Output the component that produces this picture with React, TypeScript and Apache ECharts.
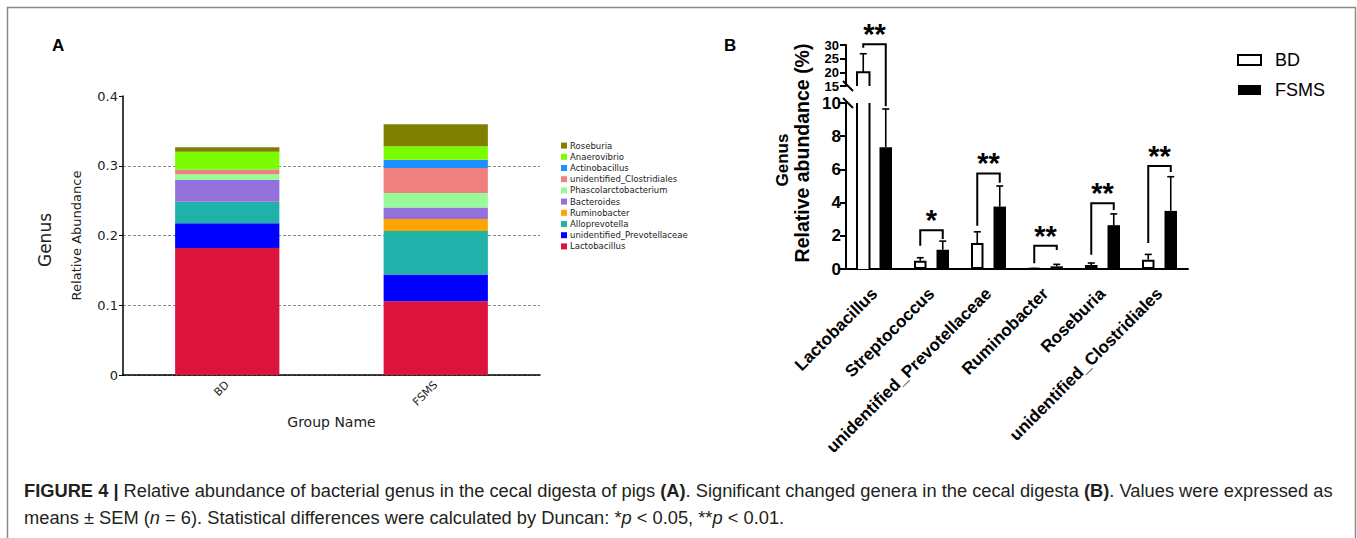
import React, { useEffect, useRef } from 'react';
import * as echarts from 'echarts';

// ---------- Panel A data ----------
const groupsA = ['BD', 'FSMS'];
const generaA = [
  'Lactobacillus',
  'unidentified_Prevotellaceae',
  'Alloprevotella',
  'Ruminobacter',
  'Bacteroides',
  'Phascolarctobacterium',
  'unidentified_Clostridiales',
  'Actinobacillus',
  'Anaerovibrio',
  'Roseburia',
];
const lactobacillusA = [0.182, 0.1056];
const prevotellaceaeA = [0.0355, 0.0384];
const alloprevotellaA = [0.0305, 0.0624];
const ruminobacterA = [0.0005, 0.0173];
const bacteroidesA = [0.031, 0.0163];
const phascolarctobacteriumA = [0.0082, 0.0211];
const clostridialesA = [0.0067, 0.0355];
const actinobacillusA = [0.0004, 0.012];
const anaerovibrioA = [0.0254, 0.0192];
const roseburiaA = [0.0063, 0.0317];
const colorsA = ['#dc143c', '#0000ff', '#20b2aa', '#ffa500', '#9370db', '#98fb98', '#f08080', '#1e90ff', '#7cfc00', '#808000'];

// ---------- Panel B data ----------
const generaB = ['Lactobacillus', 'Streptococcus', 'unidentified_Prevotellaceae', 'Ruminobacter', 'Roseburia', 'unidentified_Clostridiales'];
const bdMean = [20, 0.5, 1.56, 0.02, 0.24, 0.56];
const bdSem = [6.8, 0.18, 0.68, 0.01, 0.12, 0.32];
const fsmsMean = [7.34, 1.16, 3.76, 0.16, 2.64, 3.5];
const fsmsSem = [2.3, 0.52, 1.24, 0.12, 0.68, 2.06];
const significance = ['**', '*', '**', '**', '**', '**'];
const bracketTop = [30.3, 2.34, 5.76, 1.4, 3.96, 6.2];
const bracketLeftEnd = [29, 1.4, 2.6, 0.35, 0.86, 1.56];
const bracketRightEnd = [9.8, 1.8, 5.2, 1.15, 3.56, 5.84];
const lowerMax = 10;
const upperMin = 15;
const upperMax = 30;
const upperTicks = [15, 20, 25, 30];

const FA = 'DejaVu Sans';
const FB = 'Liberation Sans, Arial, sans-serif';

const HALF = 11.25; // bar centre offset in panel B (barWidth 12.5, gap 80%)
const BW = 12.5;

function errRender(offset: number) {
  return (params: any, api: any) => {
    const c = api.value(0);
    const m = api.value(1);
    const s = api.value(2);
    const p0 = api.coord([c, m]);
    const p1 = api.coord([c, m + s]);
    const x = p0[0] + offset;
    const st = { stroke: '#000', lineWidth: 1.6 };
    return {
      type: 'group',
      children: [
        { type: 'line', shape: { x1: x, y1: p0[1], x2: x, y2: p1[1] }, style: st },
        { type: 'line', shape: { x1: x - 3.5, y1: p1[1], x2: x + 3.5, y2: p1[1] }, style: st },
      ],
    };
  };
}

function brokenLowerRender(params: any, api: any) {
  const c = api.value(0);
  const b = api.coord([c, 0]);
  const t = api.coord([c, lowerMax]);
  const x = b[0] - HALF;
  const st = { stroke: '#000', lineWidth: 2 };
  return {
    type: 'group',
    children: [
      { type: 'line', shape: { x1: x - BW / 2, y1: b[1], x2: x - BW / 2, y2: t[1] }, style: st },
      { type: 'line', shape: { x1: x + BW / 2, y1: b[1], x2: x + BW / 2, y2: t[1] }, style: st },
    ],
  };
}
function brokenUpperRender(params: any, api: any) {
  const c = api.value(0);
  const v = api.value(1);
  const b = api.coord([c, upperMin]);
  const t = api.coord([c, v]);
  const x = b[0] - HALF;
  return {
    type: 'polyline',
    shape: { points: [[x - BW / 2, b[1]], [x - BW / 2, t[1]], [x + BW / 2, t[1]], [x + BW / 2, b[1]]] },
    style: { stroke: '#000', lineWidth: 2, fill: 'none' },
  };
}

export default function App() {
  const ref = useRef<HTMLDivElement>(null);
  useEffect(() => {
    const chart = echarts.init(ref.current!, null, { renderer: 'svg' });
    const seriesAData = [
      lactobacillusA, prevotellaceaeA, alloprevotellaA, ruminobacterA, bacteroidesA,
      phascolarctobacteriumA, clostridialesA, actinobacillusA, anaerovibrioA, roseburiaA,
    ];
    const seriesA = generaA.map((name, i) => ({
      type: 'bar',
      name,
      stack: 'a',
      xAxisIndex: 0,
      yAxisIndex: 0,
      barWidth: '50%',
      data: seriesAData[i],
      itemStyle: { color: colorsA[i] },
      emphasis: { disabled: true },
    }));

    const errLowerBD = generaB.map((_, i) => [i, bdMean[i], bdSem[i]]).filter((d) => d[1] + d[2] <= lowerMax);
    const errUpperBD = generaB.map((_, i) => [i, bdMean[i], bdSem[i]]).filter((d) => d[1] > upperMin);
    const errLowerFS = generaB.map((_, i) => [i, fsmsMean[i], fsmsSem[i]]).filter((d) => d[1] + d[2] <= lowerMax);
    const brokenBD = generaB.map((_, i) => [i, bdMean[i]]).filter((d) => d[1] > lowerMax);

    const bdLowerData = bdMean.map((v) =>
      v > lowerMax ? { value: v, itemStyle: { borderWidth: 0 } } : v,
    );
    const bdUpperData = bdMean.map((v) =>
      v > upperMin ? { value: v, itemStyle: { borderWidth: 0 } } : '-',
    );

    const axisLineB = { show: true, lineStyle: { color: '#000', width: 2 } };
    const labelB = { fontFamily: FB, fontWeight: 'bold', color: '#000' };

    chart.setOption({
      animation: false,
      backgroundColor: '#fff',
      grid: [
        { left: 123, top: 96, width: 417, height: 279 },
        { left: 846, top: 103, width: 342, height: 166 },
        { left: 846, top: 45, width: 342, height: 41 },
      ],
      xAxis: [
        {
          type: 'category', gridIndex: 0, data: groupsA,
          axisLine: { lineStyle: { color: '#000', width: 1.5 } },
          axisTick: { length: 4, lineStyle: { color: '#000', width: 1 } },
          axisLabel: { rotate: 45, fontFamily: FA, fontSize: 11, color: '#222', margin: 8 },
          name: 'Group Name', nameLocation: 'middle', nameGap: 35,
          nameTextStyle: { fontFamily: FA, fontSize: 14, color: '#222' },
        },
        {
          type: 'category', gridIndex: 1, data: generaB,
          axisLine: axisLineB,
          axisTick: { alignWithLabel: true, length: 7, lineStyle: { color: '#000', width: 2 } },
          axisLabel: { ...labelB, rotate: 45, interval: 0, fontSize: 17, margin: 22 },
        },
        { type: 'category', gridIndex: 2, data: generaB, show: false },
      ],
      yAxis: [
        {
          type: 'value', gridIndex: 0, min: 0, max: 0.4, interval: 0.1,
          axisLine: { show: true, lineStyle: { color: '#000', width: 1.5 } },
          axisTick: { show: true, length: 4, lineStyle: { color: '#000' } },
          axisLabel: { fontFamily: FA, fontSize: 13, color: '#222', margin: 5 },
          splitLine: { show: true, showMaxLine: false, lineStyle: { color: '#888', type: [3, 2], width: 1 } },
          name: 'Relative Abundance', nameLocation: 'middle', nameGap: 40,
          nameTextStyle: { fontFamily: FA, fontSize: 13, color: '#222' },
        },
        {
          type: 'value', gridIndex: 1, min: 0, max: lowerMax, interval: 2,
          axisLine: axisLineB,
          axisTick: { show: true, length: 6, lineStyle: { color: '#000', width: 2 } },
          axisLabel: { ...labelB, fontSize: 17, margin: 5 },
          splitLine: { show: false },
        },
        {
          type: 'value', gridIndex: 2, min: upperMin, max: upperMax, interval: 5,
          axisLine: axisLineB,
          axisTick: { show: true, length: 6, lineStyle: { color: '#000', width: 2 } },
          axisLabel: { show: false },
          splitLine: { show: false },
        },
      ],
      legend: [
        {
          data: [...generaA].reverse(), orient: 'vertical', left: 561, top: 140, padding: 0,
          itemWidth: 6, itemHeight: 6, itemGap: 0, icon: 'rect', selectedMode: false,
          textStyle: { fontFamily: FA, fontSize: 8.5, color: '#222', lineHeight: 11.2, padding: [0, 0, 0, -2] },
        },
        {
          data: ['BD', 'FSMS'], orient: 'vertical', left: 1237, top: 50, padding: 0,
          itemWidth: 23, itemHeight: 10, itemGap: 10, icon: 'rect', selectedMode: false,
          itemStyle: { borderWidth: 2 },
          textStyle: { fontFamily: FB, fontSize: 18, color: '#000', lineHeight: 20, padding: [0, 0, 0, 9] },
        },
      ],
      series: [
        ...seriesA,
        {
          type: 'bar', name: 'BD', xAxisIndex: 1, yAxisIndex: 1, data: bdLowerData,
          barWidth: BW, barGap: '80%',
          itemStyle: { color: '#fff', borderColor: '#000', borderWidth: 2 },
        },
        {
          type: 'bar', name: 'FSMS', xAxisIndex: 1, yAxisIndex: 1, data: fsmsMean,
          barWidth: BW, barGap: '80%', itemStyle: { color: '#000' },
        },
        {
          type: 'bar', name: 'BD', xAxisIndex: 2, yAxisIndex: 2, data: bdUpperData,
          barWidth: BW, barGap: '80%',
          itemStyle: { color: '#fff', borderColor: '#000', borderWidth: 2 },
        },
        {
          type: 'bar', name: 'FSMS', xAxisIndex: 2, yAxisIndex: 2,
          data: fsmsMean.map((v) => (v > upperMin ? v : '-')),
          barWidth: BW, barGap: '80%', itemStyle: { color: '#000' },
        },
        { type: 'custom', name: 'brokenLow', xAxisIndex: 1, yAxisIndex: 1, data: brokenBD, renderItem: brokenLowerRender, silent: true, z: 4 },
        { type: 'custom', name: 'brokenUp', xAxisIndex: 2, yAxisIndex: 2, data: brokenBD, renderItem: brokenUpperRender, silent: true, z: 4 },
        { type: 'custom', name: 'errBD', xAxisIndex: 1, yAxisIndex: 1, data: errLowerBD, renderItem: errRender(-HALF), silent: true, z: 5 },
        { type: 'custom', name: 'errFS', xAxisIndex: 1, yAxisIndex: 1, data: errLowerFS, renderItem: errRender(HALF), silent: true, z: 5 },
        { type: 'custom', name: 'errBDu', xAxisIndex: 2, yAxisIndex: 2, data: errUpperBD, renderItem: errRender(-HALF), silent: true, z: 5 },
      ],
    });

    // ---- annotations computed from axes ----
    const yPix = (v: number) =>
      v > 12
        ? (chart.convertToPixel({ yAxisIndex: 2 } as any, v) as any as number)
        : (chart.convertToPixel({ yAxisIndex: 1 } as any, v) as any as number);
    const xPix = (i: number) => chart.convertToPixel({ xAxisIndex: 1 } as any, i) as any as number;
    const axisX = (chart.convertToPixel({ xAxisIndex: 1 } as any, 0) as any as number) - 28.5;

    const graphics: any[] = [];
    graphics.push({
      type: 'rect', shape: { x: 7.5, y: 7.5, width: 1348, height: 560 },
      style: { fill: 'none', stroke: '#8a8a8a', lineWidth: 1.5 }, silent: true,
    });
    graphics.push({ type: 'text', x: 52, y: 45, style: { text: 'A', font: 'bold 17px ' + FB, fill: '#000', verticalAlign: 'middle' } });
    graphics.push({ type: 'text', x: 724, y: 45, style: { text: 'B', font: 'bold 17px ' + FB, fill: '#000', verticalAlign: 'middle' } });
    graphics.push({
      type: 'text', x: 45, y: 240, rotation: Math.PI / 2,
      style: { text: 'Genus', font: '17px ' + FA, fill: '#222', align: 'center', verticalAlign: 'middle' },
    });
    graphics.push({
      type: 'text', x: 782, y: 160, rotation: Math.PI / 2,
      style: { text: 'Genus', font: 'bold 17px ' + FB, fill: '#000', align: 'center', verticalAlign: 'middle' },
    });
    graphics.push({
      type: 'text', x: 802, y: 153, rotation: Math.PI / 2,
      style: { text: 'Relative abundance (%)', font: 'bold 19.5px ' + FB, fill: '#000', align: 'center', verticalAlign: 'middle' },
    });
    // upper-segment tick labels of the broken axis
    upperTicks.forEach((v) => {
      graphics.push({
        type: 'text', x: axisX - 7, y: yPix(v),
        style: { text: String(v), font: 'bold 13px ' + FB, lineHeight: 13, fill: '#000', align: 'right', verticalAlign: 'middle' },
      });
    });
    const yb1 = yPix(upperMin);
    const yb2 = yPix(lowerMax);
    [yb1, yb2].forEach((yy) => {
      graphics.push({
        type: 'line', shape: { x1: axisX + 2 - 5, y1: yy - 5, x2: axisX + 2 + 5, y2: yy + 5 },
        style: { stroke: '#000', lineWidth: 2 }, silent: true,
      });
    });
    generaB.forEach((_, i) => {
      const xl = xPix(i) - HALF;
      const xr = xPix(i) + HALF;
      const yt = yPix(bracketTop[i]);
      graphics.push({
        type: 'polyline',
        shape: { points: [[xl, yPix(bracketLeftEnd[i])], [xl, yt], [xr, yt], [xr, yPix(bracketRightEnd[i])]] },
        style: { stroke: '#000', lineWidth: 2, fill: 'none' }, silent: true,
      });
      graphics.push({
        type: 'text', x: (xl + xr) / 2, y: yt - 10,
        style: { text: significance[i], font: 'bold 29px ' + FB, fill: '#000', align: 'center', verticalAlign: 'middle' },
      });
    });
    const capRich = {
      b: { fontWeight: 'bold', fontSize: 18.3, fontFamily: FB, fill: '#231f20' },
      i: { fontStyle: 'italic', fontSize: 18.3, fontFamily: FB, fill: '#231f20' },
    };
    graphics.push({
      type: 'text', x: 24, y: 490,
      style: {
        text: '{b|FIGURE 4 |} Relative abundance of bacterial genus in the cecal digesta of pigs {b|(A)}. Significant changed genera in the cecal digesta {b|(B)}. Values were expressed as',
        font: '18.3px ' + FB, fill: '#231f20', verticalAlign: 'middle', rich: capRich,
      },
    });
    graphics.push({
      type: 'text', x: 24, y: 517,
      style: {
        text: 'means ± SEM ({i|n} = 6). Statistical differences were calculated by Duncan: *{i|p} < 0.05, **{i|p} < 0.01.',
        font: '18.3px ' + FB, fill: '#231f20', verticalAlign: 'middle', rich: capRich,
      },
    });

    chart.setOption({ graphic: graphics });
    return () => chart.dispose();
  }, []);
  return <div ref={ref} style={{ position: 'fixed', left: 0, top: 0, width: 1357, height: 538, background: '#fff' }} />;
}
